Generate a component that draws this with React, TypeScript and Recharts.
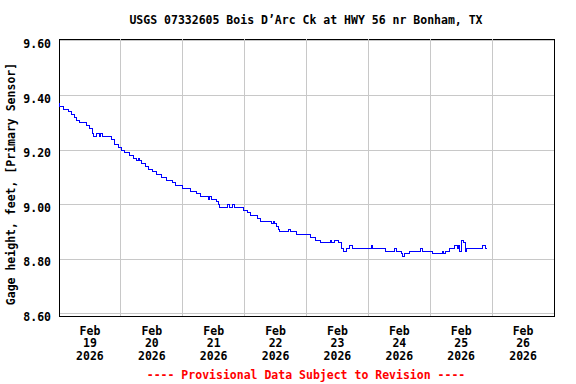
import React from 'react';
import {
    LineChart,
    Line,
    XAxis,
    YAxis,
    CartesianGrid,
    ReferenceLine,
    ReferenceArea
} from 'recharts';

const FONT = '"DejaVu Sans Mono", "Liberation Mono", monospace';

const title = 'USGS 07332605 Bois D\u2019Arc Ck at HWY 56 nr Bonham, TX';
const yLabel = 'Gage height, feet, [Primary Sensor]';
const footer = '---- Provisional Data Subject to Revision ----';

// time in days since Feb 19 2026 00:00
const times = [
    0.000, 0.013, 0.077, 0.148, 0.200, 0.255, 0.280, 0.335, 0.440, 0.500,
    0.540, 0.560, 0.600, 0.650, 0.670, 0.710, 0.850, 0.900, 0.955, 1.010,
    1.060, 1.140, 1.200, 1.250, 1.280, 1.300, 1.330, 1.390, 1.440, 1.510,
    1.570, 1.650, 1.730, 1.840, 1.880, 2.000, 2.120, 2.230, 2.280, 2.420,
    2.440, 2.470, 2.540, 2.570, 2.600, 2.730, 2.760, 2.800, 2.830, 2.980,
    3.040, 3.090, 3.200, 3.250, 3.440, 3.460, 3.490, 3.520, 3.550, 3.570,
    3.710, 3.740, 3.840, 4.060, 4.140, 4.220, 4.380, 4.410, 4.460, 4.510,
    4.570, 4.600, 4.650, 4.700, 4.750, 5.050, 5.070, 5.270, 5.430, 5.460,
    5.540, 5.555, 5.590, 5.670, 5.850, 5.870, 6.040, 6.200, 6.220, 6.240,
    6.310, 6.390, 6.440, 6.460, 6.470, 6.500, 6.530, 6.570, 6.590, 6.850,
    6.890, 6.910
];

// gage height, feet
const stage = [
    9.37, 9.36, 9.35, 9.34, 9.33, 9.32, 9.31, 9.30, 9.29, 9.28,
    9.26, 9.25, 9.26, 9.25, 9.26, 9.25, 9.24, 9.22, 9.21, 9.20,
    9.19, 9.18, 9.17, 9.16, 9.17, 9.16, 9.15, 9.14, 9.13, 9.12,
    9.11, 9.10, 9.09, 9.08, 9.07, 9.06, 9.05, 9.04, 9.03, 9.02,
    9.03, 9.02, 9.01, 9.00, 8.99, 9.00, 8.99, 9.00, 8.99, 8.98,
    8.97, 8.96, 8.95, 8.94, 8.93, 8.94, 8.93, 8.92, 8.91, 8.90,
    8.91, 8.90, 8.89, 8.88, 8.87, 8.86, 8.87, 8.86, 8.87, 8.86,
    8.84, 8.83, 8.84, 8.85, 8.84, 8.85, 8.84, 8.83, 8.84, 8.83,
    8.82, 8.81, 8.82, 8.83, 8.84, 8.83, 8.82, 8.83, 8.82, 8.83,
    8.84, 8.85, 8.84, 8.85, 8.83, 8.87, 8.86, 8.83, 8.84, 8.85,
    8.84, 8.84
];

const dayTicks = [0.5, 1.5, 2.5, 3.5, 4.5, 5.5, 6.5, 7.5];
const dayLabels = ['19', '20', '21', '22', '23', '24', '25', '26'];
const gridDays = [1, 2, 3, 4, 5, 6, 7];
const yTicks = [8.6, 8.8, 9.0, 9.2, 9.4, 9.6];
// frame sits a couple of pixels outside the 8.60 / 9.60 grid lines
const yMin = 8.592;
const yMax = 9.607;

const data = times.map((t, i) => ({ t, stage: stage[i] }));

const DayTick = (props: any) => {
    const { x, y, payload } = props;
    const idx = dayTicks.indexOf(payload.value);
    return (
        <text
            x={x}
            y={y}
            textAnchor="middle"
            fontFamily={FONT}
            fontSize={11.5}
            fontWeight="bold"
            fill="#000"
        >
            <tspan x={x} dy={18.5}>Feb</tspan>
            <tspan x={x} dy={12.5}>{dayLabels[idx]}</tspan>
            <tspan x={x} dy={12.5}>2026</tspan>
        </text>
    );
};

const textStyle: React.CSSProperties = {
    position: 'absolute',
    fontFamily: FONT,
    fontSize: 11.5,
    fontWeight: 'bold',
    lineHeight: '14px',
    whiteSpace: 'nowrap',
    textAlign: 'center'
};

export default function App() {
    return (
        <div style={{ position: 'relative', width: 576, height: 384 }}>
            <style>{'body { margin: 0; }'}</style>
            <LineChart
                width={576}
                height={384}
                data={data}
                margin={{ top: 39, right: 22, bottom: 0, left: 0 }}
            >
                <CartesianGrid stroke="#c8c8c8" vertical={false} shapeRendering="crispEdges" />
                {gridDays.map((d) => (
                    <ReferenceLine key={d} x={d} stroke="#c8c8c8" shapeRendering="crispEdges" />
                ))}
                <XAxis
                    dataKey="t"
                    type="number"
                    domain={[0, 8]}
                    ticks={dayTicks}
                    tick={<DayTick />}
                    tickLine={false}
                    tickSize={0}
                    tickMargin={0}
                    axisLine={false}
                    height={68}
                    interval={0}
                />
                <YAxis
                    type="number"
                    domain={[yMin, yMax]}
                    ticks={yTicks}
                    tickFormatter={(v: number) => v.toFixed(2)}
                    tick={{ fontSize: 11.5, fontFamily: FONT, fontWeight: 'bold', fill: '#000', dy: 3 }}
                    tickLine={false}
                    axisLine={false}
                    width={59}
                    interval={0}
                />
                <ReferenceArea
                    x1={0}
                    x2={8}
                    y1={yMin}
                    y2={yMax}
                    fill="none"
                    fillOpacity={0}
                    stroke="#000"
                    strokeWidth={1}
                    shapeRendering="crispEdges"
                />
                <Line
                    type="stepAfter"
                    dataKey="stage"
                    stroke="#0000ff"
                    strokeWidth={1}
                    dot={false}
                    shapeRendering="crispEdges"
                    isAnimationActive={false}
                />
            </LineChart>
            <div style={{ ...textStyle, left: 0, width: 612, top: 13, color: '#000' }}>
                {title}
            </div>
            <div
                style={{
                    ...textStyle,
                    left: -139,
                    width: 300,
                    height: 14,
                    top: 176.5,
                    color: '#000',
                    transform: 'rotate(-90deg)'
                }}
            >
                {yLabel}
            </div>
            <div style={{ ...textStyle, left: 0, width: 612, top: 368, color: '#ff0000' }}>
                {footer}
            </div>
        </div>
    );
}
